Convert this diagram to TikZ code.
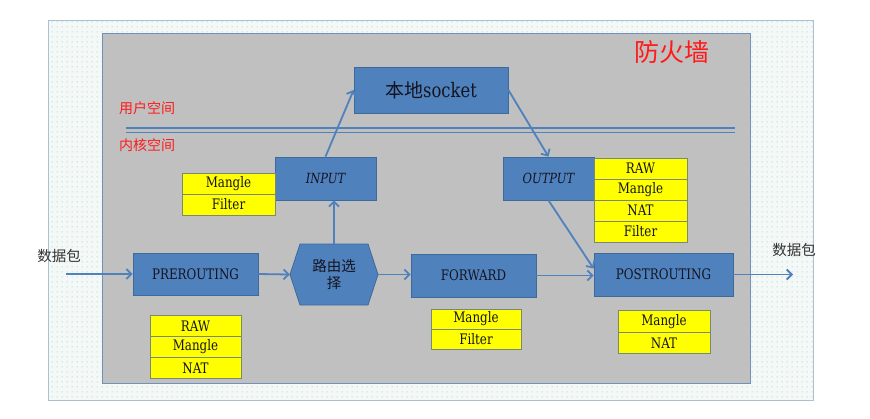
\documentclass[tikz,border=0pt]{standalone}
\usepackage{fontspec}
\newfontfamily\cjk{Noto Sans CJK SC}
\newfontfamily\boxfont[FakeStretch=0.82]{DejaVu Serif}
\usetikzlibrary{arrows.meta,patterns}
\definecolor{boxblue}{HTML}{4F81BD}
\definecolor{boxedge}{HTML}{3D6A9C}
\definecolor{cellyel}{HTML}{FFFF00}
\definecolor{celledge}{HTML}{7A8A72}
\definecolor{panelgray}{HTML}{C0C0C0}
\definecolor{paneledge}{HTML}{7391B8}
\definecolor{framebg}{HTML}{F4F9F8}
\definecolor{frameedge}{HTML}{A9C0D6}
\definecolor{dotcol}{HTML}{9ECFC1}
\definecolor{txtred}{HTML}{FF1A1A}
\definecolor{txtdark}{HTML}{141420}
\pgfdeclarepatternformonly{sparsedots}{\pgfpointorigin}{\pgfqpoint{5pt}{5pt}}{\pgfqpoint{5pt}{5pt}}{%
  \pgfpathcircle{\pgfqpoint{2.5pt}{2.5pt}}{0.7pt}\pgfusepath{fill}}
\tikzset{
  bluebox/.style={draw=boxedge, line width=0.8pt, fill=boxblue, text=txtdark,
    font=\boxfont\fontsize{14.5}{16}\selectfont, inner sep=0pt},
  cell/.style={draw=celledge, line width=0.8pt, fill=cellyel, text=txtdark,
    font=\boxfont\fontsize{14.5}{16}\selectfont, inner sep=0pt, minimum width=92pt, minimum height=21pt},
  flow/.style={draw=boxblue, line width=1.8pt, -{Straight Barb[length=5pt,width=10pt]}},
  redlabel/.style={text=txtred, inner sep=0pt},
}
\begin{document}
\begin{tikzpicture}[x=1pt,y=-1pt]
\useasboundingbox (0,0) rectangle (870,418);
% outer dotted frame
\fill[framebg] (48,20) rectangle (813,400);
\fill[pattern=sparsedots, pattern color=dotcol] (48,20) rectangle (813,400);
\draw[frameedge, line width=1pt] (48,20) rectangle (813,400);
% gray panel
\draw[paneledge, fill=panelgray, line width=1pt] (102,33) rectangle (750,383);
% title
\node[redlabel, font=\cjk\fontsize{25}{27}\selectfont] (title) at (672,52) {防火墙};
% user / kernel space
\node[redlabel, font=\cjk\fontsize{14}{16}\selectfont, anchor=west] (user) at (119,108) {用户空间};
\node[redlabel, font=\cjk\fontsize{14}{16}\selectfont, anchor=west] (kern) at (119,145) {内核空间};
\draw[boxblue, line width=1.8pt] (126,128) -- (735,128);
\draw[boxblue, line width=1.8pt] (126,132.5) -- (735,132.5);
% hexagon (route decision)
\fill[boxblue] (290,274.5) -- (300,244) -- (368,244) -- (378,274.5) -- (368,305) -- (300,305) -- cycle;
\draw[boxedge, line width=0.8pt] (290,274.5) -- (300,244) -- (368,244) -- (378,274.5) -- (368,305) -- (300,305) -- cycle;
\node[inner sep=0pt, minimum width=88pt, minimum height=61pt, align=center, text=txtdark,
  font=\cjk\fontsize{14.5}{17}\selectfont] (hex) at (334,274.5) {路由选\\择};
% main boxes
\node[bluebox, minimum width=154pt, minimum height=46pt] (sock) at (431,90)
  {{\cjk\fontsize{19}{21}\selectfont 本地}{\fontsize{20}{22}\selectfont socket}};
\node[bluebox, minimum width=101pt, minimum height=43pt, font=\boxfont\itshape\fontsize{14}{16}\selectfont] (input) at (325.5,178.5) {INPUT};
\node[bluebox, minimum width=91pt, minimum height=43pt, font=\boxfont\itshape\fontsize{14}{16}\selectfont] (output) at (548.5,178.5) {OUTPUT};
\node[bluebox, minimum width=125pt, minimum height=42pt] (pre) at (195.5,274) {PREROUTING};
\node[bluebox, minimum width=125pt, minimum height=43pt] (fwd) at (473.5,275.5) {FORWARD};
\node[bluebox, minimum width=139pt, minimum height=43pt] (post) at (663.5,274.5) {POSTROUTING};
% tables
\node[cell, minimum width=93pt] (inM) at (228.5,183.5) {Mangle};
\node[cell, minimum width=93pt] (inF) at (228.5,204.5) {Filter};
\node[cell, minimum width=93pt, minimum height=21pt] (outR) at (640.5,168.5) {RAW};
\node[cell, minimum width=93pt, minimum height=21pt] (outM) at (640.5,189.5) {Mangle};
\node[cell, minimum width=93pt, minimum height=21pt] (outN) at (640.5,210.5) {NAT};
\node[cell, minimum width=93pt, minimum height=21pt] (outF) at (640.5,231.5) {Filter};
\node[cell, minimum width=91pt] (preR) at (195.5,326) {RAW};
\node[cell, minimum width=91pt] (preM) at (195.5,347) {Mangle};
\node[cell, minimum width=91pt] (preN) at (195.5,368) {NAT};
\node[cell, minimum width=90pt, minimum height=20pt] (fwM) at (476,319) {Mangle};
\node[cell, minimum width=90pt, minimum height=20pt] (fwF) at (476,339) {Filter};
\node[cell, minimum width=92pt, minimum height=21.5pt] (poM) at (664,321.5) {Mangle};
\node[cell, minimum width=92pt, minimum height=21.5pt] (poN) at (664,343) {NAT};
% packet labels
\node[text=black!80, font=\cjk\fontsize{14.5}{16}\selectfont, inner sep=0pt] (pin) at (59,256) {数据包};
\node[text=black!80, font=\cjk\fontsize{14.5}{16}\selectfont, inner sep=0pt] (pout) at (794,250) {数据包};
\coordinate (inStart) at (66,274);
\coordinate (outEnd) at (793,274.5);
% connectors
\draw[flow] (inStart) -- (pre.west);
\draw[flow] (pre.east) -- (hex.west);
\draw[flow] (hex.east) -- (hex.east -| fwd.west);
\draw[flow] (fwd.east) -- (fwd.east -| post.west);
\draw[flow] (hex.north) -- (hex.north |- input.south);
\draw[flow] (input.north) -- (sock.west);
\draw[flow] (sock.east) -- (output.north);
\draw[flow] (output.south) -- ([yshift=6pt]post.west);
\draw[flow] (post.east) -- (outEnd);
\end{tikzpicture}
\end{document}
